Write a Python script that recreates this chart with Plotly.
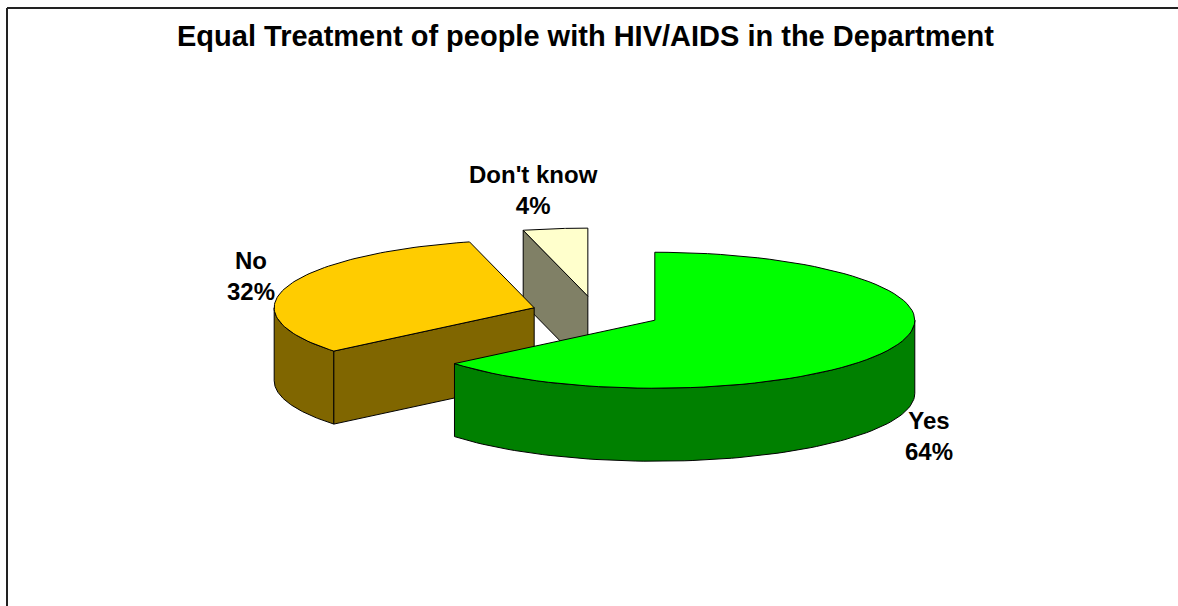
import numpy as np
import plotly.graph_objects as go

# ---------------- data ----------------
categories = ["Yes", "No", "Don't know"]
percentages = [64, 32, 4]
title_text = "Equal Treatment of people with HIV/AIDS in the Department"

# ---------------- style / layout ----------------
top_colors = ["#00FF00", "#FFCC00", "#FFFFCC"]
side_colors = ["#008000", "#806600", "#808066"]
W, H = 1178, 606
CX, CY = 596, 313          # pie centre (pixel units of the hidden axes)
RX, RY = 260, 68           # ellipse radii of the tilted pie
DEPTH = 73                 # thickness of the pie
EXPLODE = 0.25             # explosion as fraction of radius
FONT = "Liberation Sans, Arial, sans-serif"
LABEL_OFFSETS = [(39, 87), (-36, -11), (-22, -39)]  # from rim point at slice bisector


def rim(cx, cy, th, dz=0.0):
    t = np.radians(th)
    return cx + RX * np.sin(t), cy - RY * np.cos(t) + dz


def arc(cx, cy, a0, a1, dz=0.0, n=80):
    th = np.linspace(a0, a1, n)
    t = np.radians(th)
    return list(cx + RX * np.sin(t)), list(cy - RY * np.cos(t) + dz)


total = float(sum(percentages))
starts, ends = [], []
acc = 0.0
for p in percentages:
    starts.append(acc)
    acc += 360.0 * p / total
    ends.append(acc)

slices = []
for i, cat in enumerate(categories):
    a0, a1 = starts[i], ends[i]
    mid = (a0 + a1) / 2
    m = np.radians(mid)
    cx = CX + EXPLODE * RX * np.sin(m)
    cy = CY - EXPLODE * RY * np.cos(m)
    slices.append((i, a0, a1, mid, cx, cy))

fig = go.Figure()


def poly(xs, ys, color):
    fig.add_trace(go.Scatter(
        x=xs + [xs[0]], y=ys + [ys[0]], mode="lines", fill="toself",
        fillcolor=color, line=dict(color="black", width=1),
        hoverinfo="skip", showlegend=False))


# draw back-to-front
for (i, a0, a1, mid, cx, cy) in sorted(slices, key=lambda s: s[5]):
    # outer wall, front half only (90..270 deg clockwise from top)
    lo, hi = max(a0, 90), min(a1, 270)
    if hi > lo:
        tx, ty = arc(cx, cy, lo, hi)
        bx, by = arc(cx, cy, hi, lo, DEPTH)
        poly(tx + bx, ty + by, side_colors[i])
    # cut faces
    for ang, normal in ((a0, a0 - 90), (a1, a1 + 90)):
        if np.cos(np.radians(normal)) < -1e-6:
            ox, oy = rim(cx, cy, ang)
            poly([cx, ox, ox, cx], [cy, oy, oy + DEPTH, cy + DEPTH], side_colors[i])
    # top face
    tx, ty = arc(cx, cy, a0, a1)
    poly([cx] + tx, [cy] + ty, top_colors[i])

# labels
for (i, a0, a1, mid, cx, cy) in slices:
    rx_, ry_ = rim(cx, cy, mid)
    dx, dy = LABEL_OFFSETS[i]
    fig.add_annotation(
        x=rx_ + dx, y=ry_ + dy, xref="x", yref="y",
        text=f"<b>{categories[i]}</b><br><b>{percentages[i]}%</b>",
        showarrow=False, xanchor="center", yanchor="middle",
        font=dict(family=FONT, size=24, color="black"))

# title
fig.add_annotation(
    x=585, y=36, xref="x", yref="y", text=f"<b>{title_text}</b>",
    showarrow=False, xanchor="center", yanchor="middle",
    font=dict(family=FONT, size=29, color="black"))

# chart frame (only left and top edges fall inside the window)
fig.add_shape(type="line", x0=7, y0=8, x1=W + 50, y1=8,
              xref="x", yref="y", line=dict(color="#222222", width=2))
fig.add_shape(type="line", x0=7, y0=8, x1=7, y1=H + 50,
              xref="x", yref="y", line=dict(color="#222222", width=2))

fig.update_layout(
    width=W, height=H, autosize=False,
    margin=dict(l=0, r=0, t=0, b=0, pad=0),
    paper_bgcolor="white", plot_bgcolor="white",
    xaxis=dict(range=[0, W], visible=False, fixedrange=True),
    yaxis=dict(range=[H, 0], visible=False, fixedrange=True),
)

fig.write_html("out.html", config={"displayModeBar": False},
               post_script="document.body.style.margin='0';")
